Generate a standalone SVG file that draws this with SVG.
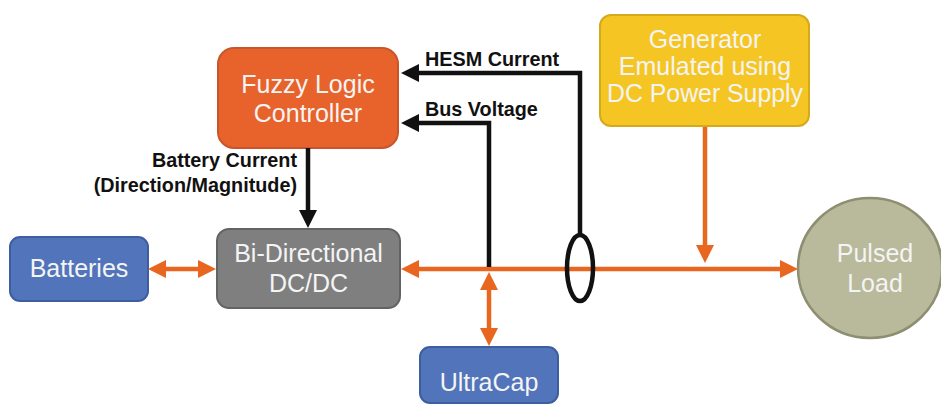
<svg xmlns="http://www.w3.org/2000/svg" width="941" height="405" viewBox="0 0 941 405">
<defs>
<style>
.nt{font-family:"Liberation Sans",Arial,sans-serif;font-size:25px;fill:#F4F4F4;text-anchor:middle}
.lb{font-family:"Liberation Sans",Arial,sans-serif;font-size:19.8px;font-weight:bold;fill:#111}
.or{stroke:#E8661F;stroke-width:4.5;fill:none}
.bk{stroke:#111;stroke-width:4.5;fill:none}
</style>
<marker id="ao" markerUnits="userSpaceOnUse" markerWidth="20" markerHeight="20" refX="8" refY="9" orient="auto-start-reverse"><path d="M0,0 L18,9 L0,18 z" fill="#E8661F"/></marker>
<marker id="ab" markerUnits="userSpaceOnUse" markerWidth="20" markerHeight="20" refX="8" refY="9" orient="auto-start-reverse"><path d="M0,0 L18,9 L0,18 z" fill="#111"/></marker>
</defs>
<rect width="941" height="405" fill="#fff"/>

<g id="flc">
<rect x="218" y="48" width="180" height="100" rx="16" fill="#E8632B" stroke="#C8562A" stroke-width="2"/>
<text class="nt" x="308" y="93">Fuzzy Logic</text>
<text class="nt" x="308" y="122">Controller</text>
</g>
<g id="generator">
<rect x="600" y="15" width="209" height="111" rx="11" fill="#F5C623" stroke="#D4A91C" stroke-width="2"/>
<text class="nt" x="705" y="48">Generator</text>
<text class="nt" x="705" y="75">Emulated using</text>
<text class="nt" x="705" y="102" textLength="196" lengthAdjust="spacingAndGlyphs">DC Power Supply</text>
</g>
<g id="batteries">
<rect x="10" y="237" width="138" height="64" rx="10" fill="#5274BA" stroke="#3D5E9F" stroke-width="2"/>
<text class="nt" x="79" y="277">Batteries</text>
</g>
<g id="dcdc">
<rect x="217" y="229" width="183" height="79" rx="12" fill="#7F7F80" stroke="#636364" stroke-width="2"/>
<text class="nt" x="308.5" y="262">Bi-Directional</text>
<text class="nt" x="308.5" y="292">DC/DC</text>
</g>
<g id="ultracap">
<rect x="420" y="347" width="138" height="56" rx="10" fill="#5274BA" stroke="#3D5E9F" stroke-width="2"/>
<text class="nt" x="489" y="391">UltraCap</text>
</g>
<g id="pulsedload">
<ellipse cx="870" cy="268" rx="72" ry="70" fill="#B9B99B" stroke="#8E8E72" stroke-width="2.5"/>
<text class="nt" x="875" y="262">Pulsed</text>
<text class="nt" x="875" y="292">Load</text>
</g>

<g id="connectors">
<line class="or" x1="158" y1="269" x2="206" y2="269" marker-start="url(#ao)" marker-end="url(#ao)"/>
<line class="or" x1="411" y1="269" x2="788" y2="269" marker-start="url(#ao)" marker-end="url(#ao)"/>
<line class="or" x1="489" y1="282" x2="489" y2="336" marker-start="url(#ao)" marker-end="url(#ao)"/>
<line class="or" x1="705" y1="127" x2="705" y2="253" marker-end="url(#ao)"/>
<line class="bk" x1="308" y1="148" x2="308" y2="218" marker-end="url(#ab)"/>
<path class="bk" d="M580,236 V73 H411" marker-end="url(#ab)"/>
<path class="bk" d="M489,267 V123 H411" marker-end="url(#ab)"/>
<ellipse cx="580" cy="268" rx="13" ry="33" fill="none" stroke="#111" stroke-width="4.5"/>
<text class="lb" x="425" y="66">HESM Current</text>
<text class="lb" x="425" y="116">Bus Voltage</text>
<text class="lb" x="297" y="167" text-anchor="end">Battery Current</text>
<text class="lb" x="297" y="192" text-anchor="end">(Direction/Magnitude)</text>
</g>
</svg>
